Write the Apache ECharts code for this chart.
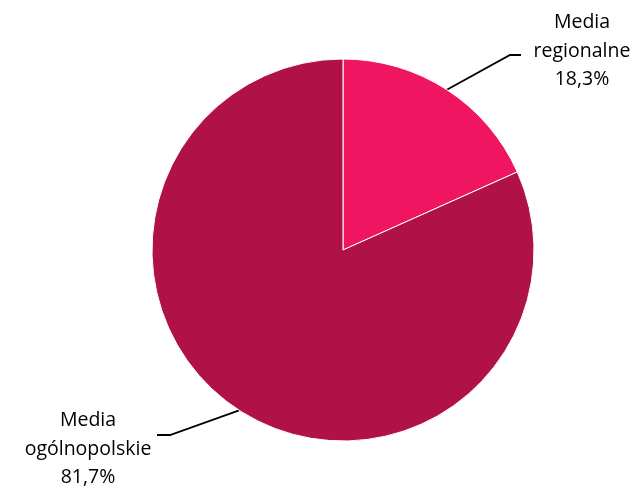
<!DOCTYPE html>
<html><head><meta charset="utf-8">
<script src="https://cdn.jsdelivr.net/npm/echarts@6/dist/echarts.min.js"></script>
<style>html,body{margin:0;padding:0;background:#fff}#c{width:639px;height:491px}</style>
</head><body><div id="c"></div>
<script>
const categories = ['Media\nregionalne', 'Media\nogólnopolskie'];
const values = [18.3, 81.7];
const colors = ['#F01560', '#B01247'];

const labelPos = [[582, 51], [88, 449]];
const linePts = [[[510, 55], [521, 55]], [[170, 435], [157, 435]]];

const chart = echarts.init(document.getElementById('c'));
chart.setOption({
  animation: false,
  series: [{
    type: 'pie',
    center: [343, 250],
    radius: [0, 191],
    startAngle: 90,
    clockwise: true,
    data: categories.map((n, i) => ({ name: n, value: values[i], itemStyle: { color: colors[i] } })),
    itemStyle: { borderColor: '#fff', borderWidth: 1 },
    label: {
      show: true,
      position: 'outside',
      formatter: p => p.name + '\n' + p.value.toFixed(1).replace('.', ',') + '%',
      fontFamily: 'Open Sans',
      fontSize: 19.5,
      lineHeight: 28.5,
      color: '#000',
      align: 'center'
    },
    labelLine: { show: true, lineStyle: { color: '#000', width: 1.8 } },
    labelLayout: function (p) {
      const i = p.dataIndex;
      const start = p.labelLinePoints ? p.labelLinePoints[0] : null;
      const out = { x: labelPos[i][0], y: labelPos[i][1], align: 'center', verticalAlign: 'middle' };
      if (start) out.labelLinePoints = [start, linePts[i][0], linePts[i][1]];
      return out;
    }
  }]
});
</script></body></html>
